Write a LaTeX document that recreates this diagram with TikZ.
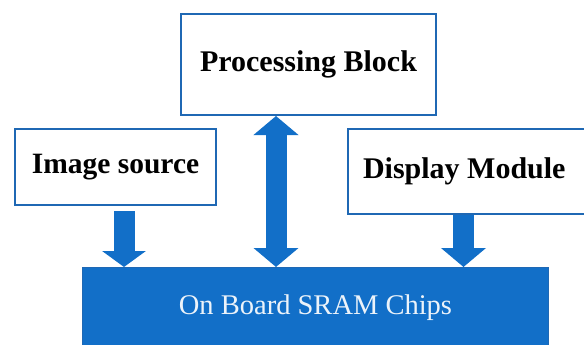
\documentclass[tikz,border=0pt]{standalone}
\usepackage{fontspec}
\setmainfont{Liberation Serif}
\usepackage{tikz}
\usetikzlibrary{arrows.meta}
\usetikzlibrary{calc}
\definecolor{boxblue}{RGB}{31,104,180}
\definecolor{chipblue}{RGB}{18,111,200}
\definecolor{chiptext}{RGB}{236,243,250}
\tikzset{my box/.style={
  draw=boxblue,
  line width=2pt,
  fill=white,
  anchor=north west,
  inner sep=0pt,
  font=\fontsize{30}{36}\selectfont\bfseries
  }
}
\tikzset{my chip/.style={
  draw=boxblue,
  line width=1pt,
  fill=chipblue,
  anchor=north west,
  inner sep=0pt,
  text=chiptext,
  font=\fontsize{28.5}{34}\selectfont
  }
}
\tikzset{my arrow/.style={
  chipblue,
  line width=21pt,
  -{Triangle[width=44pt,length=19pt]}
  }
}

\begin{document}
\begin{tikzpicture}[x=1pt,y=-1pt]
    \useasboundingbox (0,0) rectangle (584,345);
    \clip (0,0) rectangle (584,345);

    \node[my box,minimum width=255pt,minimum height=101pt] (proc) at (180,13) {Processing Block};
    \node[my box,minimum width=201pt,minimum height=76pt,font=\fontsize{29.5}{35}\selectfont\bfseries] (img) at (14,128) {Image source};
    \node[my box,minimum height=85pt,inner xsep=15pt] (disp) at (347,128) {\makebox[220pt][l]{Display Module}};
    \node[my chip,minimum width=466pt,minimum height=81pt] (sram) at (82,267) {On Board SRAM Chips};

    \coordinate (imgout) at ([xshift=8.5pt,yshift=-5pt]img.south);
    \coordinate (procin) at ([xshift=-32.5pt]proc.south);
    \coordinate (dispout) at ([xshift=-9.5pt]disp.south);

    \draw[my arrow,-{Triangle[width=43pt,length=16pt]}]  (imgout) -- (imgout |- sram.north);
    \draw[my arrow,{Triangle[width=44pt,length=19pt]}-{Triangle[width=44pt,length=19pt]}]  (procin) -- (procin |- sram.north);
    \draw[my arrow]  (dispout) -- (dispout |- sram.north);

\end{tikzpicture}
\end{document}
